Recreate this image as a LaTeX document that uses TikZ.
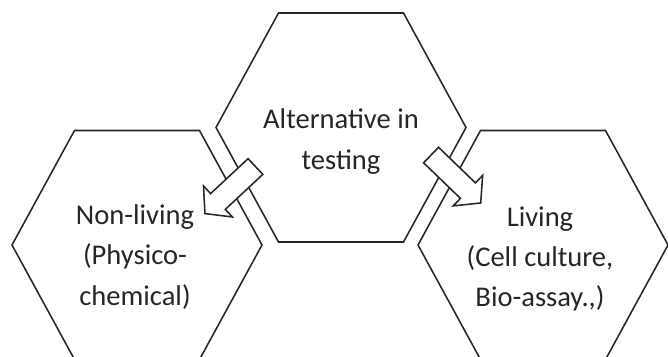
\documentclass[tikz,border=0pt]{standalone}
\usepackage{fontspec}
\setmainfont{Carlito}
\usetikzlibrary{shapes.arrows,calc}

\begin{document}
\begin{tikzpicture}[
  x=0.025cm, y=-0.025cm,
  every node/.style={font=\fontsize{20.3}{28.5}\selectfont, text=black!85},
  hexa/.style={draw=black!85, line width=1.1pt, line join=miter},
  hexlabel/.style={align=center, inner sep=0pt},
  blockarrow/.style={single arrow, draw=black!85, fill=white, line width=1.1pt,
    minimum height=1.725cm, inner xsep=0pt, inner ysep=0.25cm,
    single arrow head extend=0.26cm, single arrow tip angle=100, anchor=tail},
]
  \useasboundingbox (0,0) rectangle (668,356);
  \clip (0,0) rectangle (668,356);

  % hexagon centres
  \coordinate (hexMid) at (341,127.5);
  \coordinate (hexLeft) at (137,245);
  \coordinate (hexRight) at (543,245);
  \foreach \h in {hexMid,hexLeft,hexRight}
    \draw[hexa] ($(\h)+(-125,0)$) -- ++(62.5,-114.5) -- ++(125,0)
      -- ++(62.5,114.5) -- ++(-62.5,114.5) -- ++(-125,0) -- cycle;

  % labels
  \node[hexlabel] (alt)     at (341,141.5) {Alternative in\\testing};
  \node[hexlabel] (nonliv)  at (135,257)   {Non-living\\(Physico-\\chemical)};
  \node[hexlabel] (liv)     at (540,259)   {Living\\ (Cell culture,\\Bio-assay.,)};

  % block arrows
  \node[blockarrow, rotate=223] (toNonliv) at (256,166)   {};
  \node[blockarrow, rotate=316] (toLiv)    at (430.5,154.5) {};
\end{tikzpicture}
\end{document}
